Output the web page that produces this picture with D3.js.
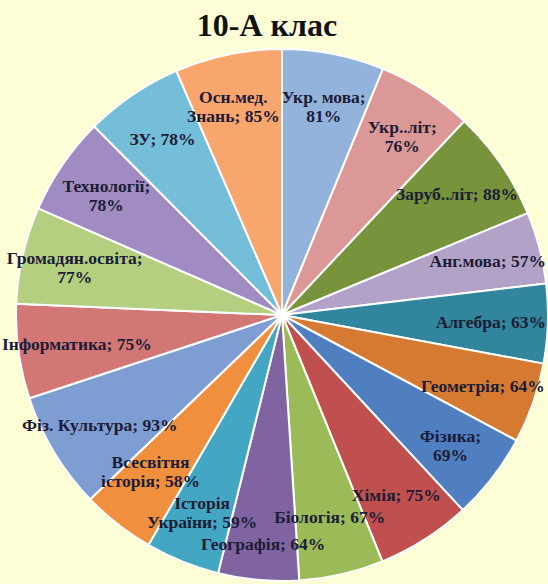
<!DOCTYPE html>
<html>
<head>
<meta charset="utf-8">
<script src="https://cdn.jsdelivr.net/npm/d3@7"></script>
<style>
  html, body { margin: 0; padding: 0; background: #FDFDD6; }
  svg { display: block; }
</style>
</head>
<body>
<svg id="chart" width="548" height="584"></svg>
<script>
const title = "10-А клас";
const categories = ["Укр. мова", "Укр..літ", "Заруб..літ", "Анг.мова", "Алгебра", "Геометрія",
  "Фізика", "Хімія", "Біологія", "Географія", "Історія України", "Всесвітня історія",
  "Фіз. Культура", "Інформатика", "Громадян.освіта", "Технології", "ЗУ", "Осн.мед. Знань"];
const values = [81, 76, 88, 57, 63, 64, 69, 75, 67, 64, 59, 58, 93, 75, 77, 78, 78, 85];
// 0 = one line, 1 = value on a second line, 2 = first word on its own line
const wrapRule = [1, 1, 0, 0, 0, 0, 1, 0, 0, 0, 2, 2, 0, 0, 1, 1, 0, 2];
const colors = ["#93B3DC", "#DC9896", "#77933C", "#B3A2C7", "#31859C", "#D67A32",
  "#4F7FC0", "#C0504D", "#9BBB59", "#8064A2", "#43A6C2", "#F0903F",
  "#7E9DD2", "#D27776", "#B5CF80", "#A08BC2", "#74BED9", "#F9A56E"];

const svg = d3.select("#chart");
const W = 548, H = 584;
const cx = 282, cy = 315, R = 266;

svg.append("text")
  .attr("x", 267).attr("y", 36)
  .attr("text-anchor", "middle")
  .attr("font-family", "Liberation Serif, Times New Roman, serif")
  .attr("font-weight", "bold")
  .attr("font-size", 32)
  .attr("fill", "#111")
  .text(title);

const data = categories.map((c, i) => ({ name: c, value: values[i], color: colors[i], wrap: wrapRule[i] }));
const pie = d3.pie().value(d => d.value).sort(null);
const arcs = pie(data);
const arc = d3.arc().innerRadius(0).outerRadius(R);
const labelArc = d3.arc().innerRadius(R * 0.8).outerRadius(R * 0.8);

const g = svg.append("g").attr("transform", `translate(${cx},${cy})`);
g.selectAll("path").data(arcs).join("path")
  .attr("d", arc)
  .attr("fill", d => d.data.color)
  .attr("stroke", "#FFFFFF")
  .attr("stroke-width", 2)
  .attr("stroke-linejoin", "round");

function lines(d) {
  if (d.wrap === 1) return [`${d.name};`, `${d.value}%`];
  if (d.wrap === 2) {
    const sp = d.name.indexOf(" ");
    return [d.name.slice(0, sp), `${d.name.slice(sp + 1)}; ${d.value}%`];
  }
  return [`${d.name}; ${d.value}%`];
}

const fs = 17.5, lh = 19;
const labels = g.selectAll("text.lbl").data(arcs).join("text")
  .attr("class", "lbl")
  .attr("text-anchor", "middle")
  .attr("font-family", "Liberation Serif, Times New Roman, serif")
  .attr("font-weight", "bold")
  .attr("font-size", fs)
  .attr("fill", "#1C1C36");

labels.each(function(d) {
  const ls = lines(d.data);
  const t = d3.select(this);
  ls.forEach((l, i) => {
    t.append("tspan")
      .attr("x", 0)
      .attr("y", (i - (ls.length - 1) / 2) * lh + fs * 0.35)
      .text(l);
  });
});

// best-fit style placement: start at centroid, push overlapping labels apart
const nodes = [];
labels.each(function(d) {
  const bb = this.getBBox();
  const c = labelArc.centroid(d);
  nodes.push({ el: this, x: c[0], y: c[1], bx: bb.x, by: bb.y, bw: bb.width, bh: bb.height });
});
const pad = 1;
for (let it = 0; it < 400; it++) {
  let any = false;
  for (let i = 0; i < nodes.length; i++) {
    for (let j = i + 1; j < nodes.length; j++) {
      const a = nodes[i], b = nodes[j];
      const ax0 = a.x + a.bx - pad, ax1 = a.x + a.bx + a.bw + pad;
      const ay0 = a.y + a.by - pad, ay1 = a.y + a.by + a.bh + pad;
      const bx0 = b.x + b.bx - pad, bx1 = b.x + b.bx + b.bw + pad;
      const by0 = b.y + b.by - pad, by1 = b.y + b.by + b.bh + pad;
      const ox = Math.min(ax1, bx1) - Math.max(ax0, bx0);
      const oy = Math.min(ay1, by1) - Math.max(ay0, by0);
      if (ox > 0 && oy > 0) {
        any = true;
        const step = 0.25;
        if (ox < oy) {
          const s = a.x < b.x ? -1 : 1;
          a.x += s * ox * step; b.x -= s * ox * step;
        } else {
          const s = a.y < b.y ? -1 : 1;
          a.y += s * oy * step; b.y -= s * oy * step;
        }
      }
    }
  }
  nodes.forEach(n => {
    const r = Math.hypot(n.x, n.y), rMax = R * 0.9;
    if (r > rMax) { n.x *= rMax / r; n.y *= rMax / r; }
    n.x = Math.max(-cx - n.bx + 2, Math.min(W - cx - n.bx - n.bw - 2, n.x));
  });
  if (!any) break;
}
nodes.forEach(n => d3.select(n.el).attr("transform", `translate(${n.x},${n.y})`));
</script>
</body>
</html>
